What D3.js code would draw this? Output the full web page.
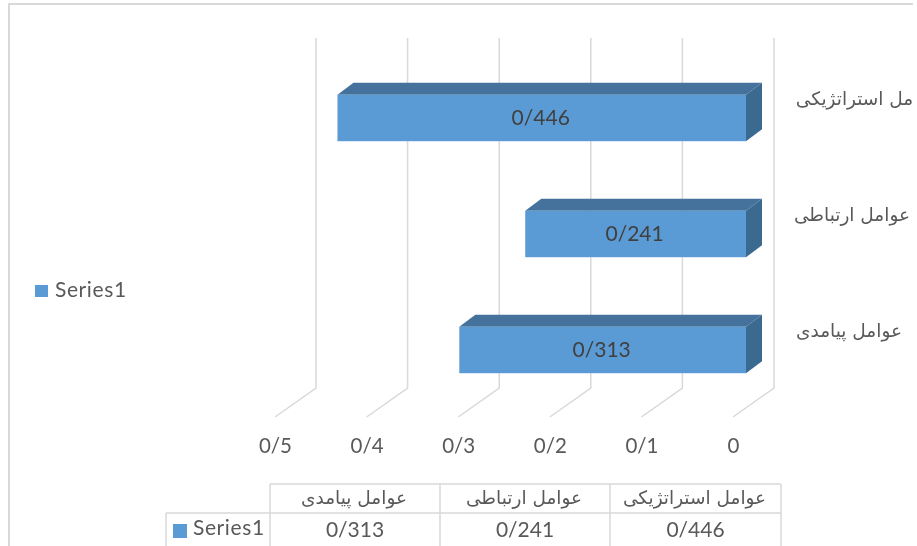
<!DOCTYPE html>
<html>
<head>
<meta charset="utf-8">
<script src="https://cdn.jsdelivr.net/npm/d3@7"></script>
<style>
  html, body { margin: 0; padding: 0; background: #fff; }
  svg { display: block; filter: blur(0.5px); }
  text { font-family: Lato, "Open Sans", sans-serif; fill: #595959; }
  .fa { font-family: "DejaVu Sans", sans-serif; direction: rtl; }
</style>
</head>
<body>
<div id="chart"></div>
<script>
const seriesName = "Series1";
const categories = ["عوامل استراتژیکی", "عوامل ارتباطی", "عوامل پیامدی"];
const values = [0.446, 0.241, 0.313];
const valueLabels = ["0/446", "0/241", "0/313"];
const ticks = [0, 0.1, 0.2, 0.3, 0.4, 0.5];
const tickLabels = ["0", "0/1", "0/2", "0/3", "0/4", "0/5"];
const tableOrder = [2, 1, 0];

const width = 917, height = 546;
const colors = { front: "#5b9bd5", top: "#44729d", side: "#3b6a91", grid: "#d9d9d9" };

const svg = d3.select("#chart").append("svg")
  .attr("width", width)
  .attr("height", height);

svg.append("clipPath").attr("id", "page")
  .append("rect").attr("width", 915).attr("height", height);

// frame, only top and left are visible in the crop
svg.append("path")
  .attr("d", "M9,546V4H913")
  .attr("fill", "none")
  .attr("stroke", "#d9d9d9")
  .attr("stroke-width", 2);

// floor front edge, the back wall is shifted by depth
let x = d3.scaleLinear().domain([0, 0.5]).range([733, 275]);
let depth = { dx: 41, dy: -29 };
let floorY = 417, wallTop = 38;

svg.selectAll(".grid")
  .data(ticks).enter()
  .append("path")
    .attr("class", "grid")
    .attr("fill", "none")
    .attr("stroke", colors.grid)
    .attr("stroke-width", 1.5)
    .attr("d", d => d3.line()([
      [x(d), floorY],
      [x(d) + depth.dx, floorY + depth.dy],
      [x(d) + depth.dx, wallTop]
    ]));

svg.selectAll(".tick-label")
  .data(ticks).enter()
  .append("text")
    .attr("class", "tick-label")
    .attr("x", d => x(d) + 0.5)
    .attr("y", 448)
    .attr("text-anchor", "middle")
    .attr("dominant-baseline", "middle")
    .attr("font-size", 20.5)
    .text((d, i) => tickLabels[i]);

// bars
let barX = v => x(v) + 13;
let y = d3.scaleBand().domain(categories).range([60, 408]).paddingInner(0.6).paddingOuter(0.3);
let bar = { dx: 16, dy: -12 };

let bars = svg.selectAll(".bar")
  .data(categories).enter()
  .append("g")
    .attr("class", "bar");

bars.append("path")
  .attr("fill", colors.top)
  .attr("d", (d, i) => {
    let x0 = barX(values[i]), x1 = barX(0), t = y(d);
    return d3.line()([[x0, t], [x0 + bar.dx, t + bar.dy], [x1 + bar.dx, t + bar.dy], [x1, t]]) + "Z";
  });

bars.append("path")
  .attr("fill", colors.side)
  .attr("d", d => {
    let x1 = barX(0), t = y(d), b = t + y.bandwidth();
    return d3.line()([[x1, t], [x1 + bar.dx, t + bar.dy], [x1 + bar.dx, b + bar.dy], [x1, b]]) + "Z";
  });

bars.append("rect")
  .attr("fill", colors.front)
  .attr("x", (d, i) => barX(values[i]))
  .attr("y", d => y(d))
  .attr("width", (d, i) => barX(0) - barX(values[i]))
  .attr("height", y.bandwidth());

bars.append("text")
  .attr("x", (d, i) => (barX(0) + barX(values[i])) / 2 - 1)
  .attr("y", d => y(d) + y.bandwidth() / 2 + 2)
  .attr("text-anchor", "middle")
  .attr("dominant-baseline", "middle")
  .attr("font-size", 21)
  .style("fill", "#404040")
  .text((d, i) => valueLabels[i]);

// category labels, the first runs off the page
let labelRight = [939, 910, 902];
svg.append("g").attr("clip-path", "url(#page)")
  .selectAll("text")
  .data(categories).enter()
  .append("text")
    .attr("class", "fa")
    .attr("x", (d, i) => labelRight[i])
    .attr("y", d => y(d) + 5)
    .attr("text-anchor", "start")
    .attr("dominant-baseline", "middle")
    .attr("font-size", 18.5)
    .text(d => d);

// legend
svg.append("rect").attr("x", 35).attr("y", 285).attr("width", 13).attr("height", 12).attr("fill", colors.front);
svg.append("text").attr("x", 55).attr("y", 292)
  .attr("dominant-baseline", "middle").attr("font-size", 21).attr("letter-spacing", 0.6).text(seriesName);

// data table
let cols = [270, 440, 610, 781];
let rowTop = 484, rowMid = 513, legendLeft = 166;
let tableLine = "#d9d9d9";
let tbl = svg.append("g").attr("stroke", tableLine).attr("stroke-width", 1.5);
tbl.append("line").attr("x1", cols[0]).attr("x2", cols[3]).attr("y1", rowTop).attr("y2", rowTop);
tbl.append("line").attr("x1", legendLeft).attr("x2", cols[3]).attr("y1", rowMid).attr("y2", rowMid);
tbl.append("line").attr("x1", legendLeft).attr("x2", legendLeft).attr("y1", rowMid).attr("y2", height);
cols.forEach(c => {
  tbl.append("line").attr("x1", c).attr("x2", c).attr("y1", rowTop).attr("y2", height);
});

tableOrder.forEach((k, i) => {
  let cx = (cols[i] + cols[i + 1]) / 2;
  svg.append("text").attr("class", "fa")
    .attr("x", cx - 1).attr("y", 499)
    .attr("text-anchor", "middle").attr("dominant-baseline", "middle")
    .attr("font-size", 18.5)
    .text(categories[k]);
  svg.append("text")
    .attr("x", cx).attr("y", 532)
    .attr("text-anchor", "middle").attr("dominant-baseline", "middle")
    .attr("font-size", 21)
    .text(valueLabels[k]);
});

svg.append("rect").attr("x", 173).attr("y", 524).attr("width", 14).attr("height", 14).attr("fill", colors.front);
svg.append("text").attr("x", 193).attr("y", 530)
  .attr("dominant-baseline", "middle").attr("font-size", 21).attr("letter-spacing", 0.6).text(seriesName);
</script>
</body>
</html>
